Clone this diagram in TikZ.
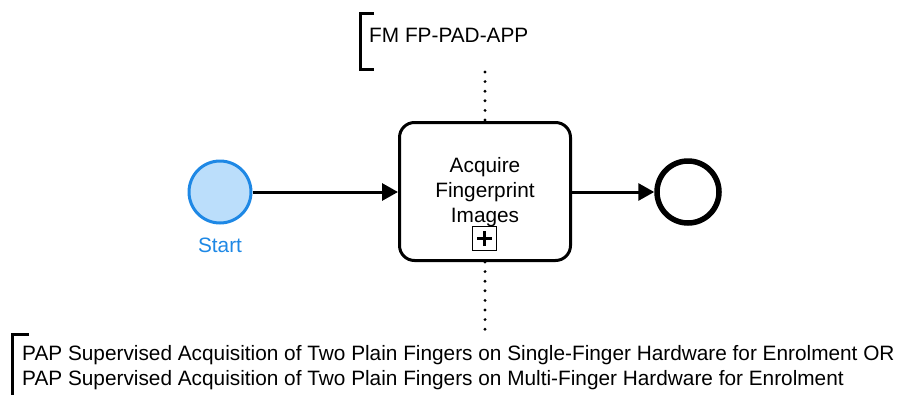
\documentclass[tikz,border=0pt]{standalone}
\usepackage{fontspec}
\setmainfont{Liberation Sans}
\usetikzlibrary{arrows.meta}
\definecolor{startfill}{HTML}{BBDEFB}
\definecolor{startline}{HTML}{1E88E5}
\tikzset{
  flow/.style={line width=3pt,-{Triangle[length=16pt,width=17pt]}},
  assoc/.style={line width=3.2pt,line cap=round,dash pattern=on 0pt off 9.6pt},
  bracketline/.style={line width=3pt},
  txt/.style={font=\fontsize{20.8}{25}\selectfont,inner sep=0pt}
}
\begin{document}
\begin{tikzpicture}[x=1pt,y=-1pt]
\useasboundingbox (0,0) rectangle (901,394);
\node[circle,minimum size=62pt,inner sep=0pt,draw=startline,fill=startfill,line width=3pt] (start) at (220,192) {};
\node[txt,text=startline] (startlbl) at (220,245) {Start};
\node[draw,rounded corners=15pt,line width=3pt,minimum width=171pt,minimum height=138pt,inner sep=0pt] (task) at (485,191.5) {};
\node[txt,align=center] (tasklbl) at (485,192) {Acquire\\Fingerprint\\Images};
\node[draw,line width=1.2pt,minimum size=24pt,inner sep=0pt,fill=white] (plus) at (484.5,238.5) {};
\draw[line width=3.2pt] ([xshift=-7.5pt]plus.center) -- ([xshift=7.5pt]plus.center);
\draw[line width=3.2pt] ([yshift=-7.5pt]plus.center) -- ([yshift=7.5pt]plus.center);
\node[circle,minimum size=62pt,inner sep=0pt,draw,line width=5.5pt] (end) at (688,192) {};
\draw[flow] (start.east) -- (start.east -| task.west);
\draw[flow] (end.west -| task.east) -- (end.west);
% top annotation
\coordinate (ta1) at (374,13);
\coordinate (ta2) at (374,69);
\draw[bracketline] (ta1) -- ++(-14,0) |- (ta2);
\node[txt,anchor=west] (toptxt) at (369,35) {FM FP-PAD-APP};
\coordinate (topend) at (485,72);
\draw[assoc] (topend) -- (task.north);
% bottom annotation
\coordinate (ba1) at (29,334);
\draw[bracketline] (ba1) -- ++(-17,0) -- ++(0,62);
\node[txt,anchor=west,align=left] (bottxt) at (22,367.5) {PAP Supervised Acquisition of Two Plain Fingers on Single-Finger Hardware for Enrolment OR\\PAP Supervised Acquisition of Two Plain Fingers on Multi-Finger Hardware for Enrolment};
\coordinate (botend) at (485,330);
\draw[assoc] (task.south) -- (botend);
\end{tikzpicture}
\end{document}
